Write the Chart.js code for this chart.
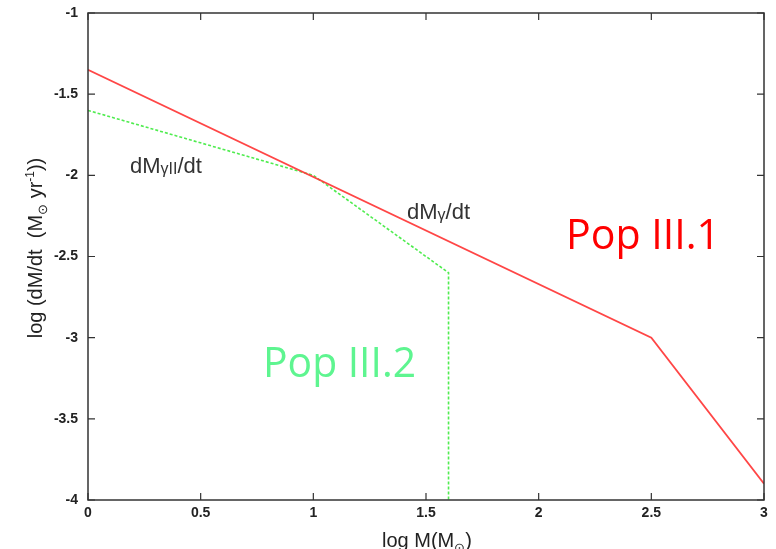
<!DOCTYPE html>
<html>
<head>
<meta charset="utf-8">
<script src="https://cdn.jsdelivr.net/npm/chart.js@4/dist/chart.umd.min.js"></script>
<style>
  html, body { margin: 0; padding: 0; background: #fff; }
  #wrap { width: 776px; height: 549px; }
</style>
</head>
<body>
<div id="wrap"><canvas id="myChart" width="776" height="549"></canvas></div>
<script>
// accretion rate curves
const pop1X = [0, 2.5, 3];
const pop1Y = [-1.35, -3.0, -3.9];
const pop2X = [0, 1, 1.6, 1.6];
const pop2Y = [-1.6, -2.0, -2.6, -4.0];

const xTicks = [0, 0.5, 1, 1.5, 2, 2.5, 3];
const yTicks = [-1, -1.5, -2, -2.5, -3, -3.5, -4];

const toPoints = (xs, ys) => xs.map((x, i) => ({ x: x, y: ys[i] }));
const FONT = '"Liberation Sans", Arial';

// box, inward ticks, titles and labels
const decor = {
  id: 'decor',
  afterDraw(chart) {
    const ctx = chart.ctx;
    const a = chart.chartArea;
    const sx = chart.scales.x, sy = chart.scales.y;
    ctx.save();
    ctx.strokeStyle = '#333';
    ctx.lineWidth = 1.5;
    ctx.strokeRect(a.left, a.top, a.right - a.left, a.bottom - a.top);
    ctx.lineWidth = 1.2;
    const t = 7;
    ctx.beginPath();
    xTicks.forEach(v => {
      const px = sx.getPixelForValue(v);
      ctx.moveTo(px, a.bottom); ctx.lineTo(px, a.bottom - t);
      ctx.moveTo(px, a.top); ctx.lineTo(px, a.top + t);
    });
    yTicks.forEach(v => {
      const py = sy.getPixelForValue(v);
      ctx.moveTo(a.left, py); ctx.lineTo(a.left + t, py);
      ctx.moveTo(a.right, py); ctx.lineTo(a.right - t, py);
    });
    ctx.stroke();

    const runs = (segs, x, y) => {
      segs.forEach(s => {
        ctx.font = s[1] + 'px ' + FONT;
        ctx.fillText(s[0], x, y + s[2]);
        x += ctx.measureText(s[0]).width;
      });
    };
    const width = segs => segs.reduce((w, s) => {
      ctx.font = s[1] + 'px ' + FONT;
      return w + ctx.measureText(s[0]).width;
    }, 0);

    // y axis title
    ctx.fillStyle = '#222';
    ctx.textBaseline = 'alphabetic';
    const yt = [
      ['log (dM/dt  (M', 20, 0],
      ['\u2299', 13, 5],
      [' yr', 20, 0],
      ['-1', 12, -8],
      ['))', 20, 0]
    ];
    ctx.save();
    ctx.translate(42, 248);
    ctx.rotate(-Math.PI / 2);
    runs(yt, -width(yt) / 2, 0);
    ctx.restore();

    // x axis title (cut by the bottom edge)
    const xt = [['log M(M', 20, 0], ['\u2299', 13, 5], [')', 20, 0]];
    runs(xt, 427 - width(xt) / 2, 547);

    // curve labels
    ctx.fillStyle = '#333';
    runs([['dM', 22, 0], ['\u03b3II', 16, 1], ['/dt', 22, 0]], 130, 173);
    runs([['dM', 22, 0], ['\u03b3', 16, 1], ['/dt', 22, 0]], 407, 219);

    ctx.font = '42px "Open Sans", "Noto Sans", sans-serif';
    ctx.fillStyle = '#ff0000';
    ctx.fillText('Pop III.1', 566, 249, 154);
    ctx.fillStyle = '#5ef590';
    ctx.fillText('Pop III.2', 263, 377, 153);
    ctx.restore();
  }
};

const tickFont = { family: FONT, size: 14, weight: 'bold' };

const context = document.getElementById('myChart').getContext('2d');
const myChart = new Chart(context, {
  type: 'scatter',
  data: {
    datasets: [
      {
        label: 'Pop III.1',
        data: toPoints(pop1X, pop1Y),
        showLine: true,
        borderColor: 'rgba(255, 60, 60, 0.95)',
        borderWidth: 1.8,
        pointRadius: 0,
        tension: 0
      },
      {
        label: 'Pop III.2',
        data: toPoints(pop2X, pop2Y),
        showLine: true,
        borderColor: 'rgba(70, 235, 70, 0.95)',
        borderWidth: 1.6,
        borderDash: [3, 2],
        pointRadius: 0,
        tension: 0
      }
    ]
  },
  options: {
    responsive: false,
    maintainAspectRatio: false,
    animation: false,
    layout: { padding: { top: 13, right: 12, left: 0, bottom: 0 } },
    plugins: { legend: { display: false }, tooltip: { enabled: false } },
    scales: {
      x: {
        type: 'linear',
        min: 0, max: 3,
        grid: { display: false, drawTicks: false },
        border: { display: false },
        afterFit: s => { s.height = 49; s.paddingLeft = 0; s.paddingRight = 0; },
        afterBuildTicks: s => { s.ticks = xTicks.map(v => ({ value: v })); },
        ticks: {
          autoSkip: false, maxRotation: 0, padding: 5,
          color: '#222', font: tickFont,
          callback: v => String(v)
        }
      },
      y: {
        type: 'linear',
        min: -4, max: -1,
        grid: { display: false, drawTicks: false },
        border: { display: false },
        afterFit: s => { s.width = 88; s.paddingTop = 0; s.paddingBottom = 0; },
        afterBuildTicks: s => { s.ticks = yTicks.map(v => ({ value: v })); },
        ticks: {
          autoSkip: false, padding: 10,
          color: '#222', font: tickFont,
          callback: v => String(v)
        }
      }
    }
  },
  plugins: [decor]
});
</script>
</body>
</html>
